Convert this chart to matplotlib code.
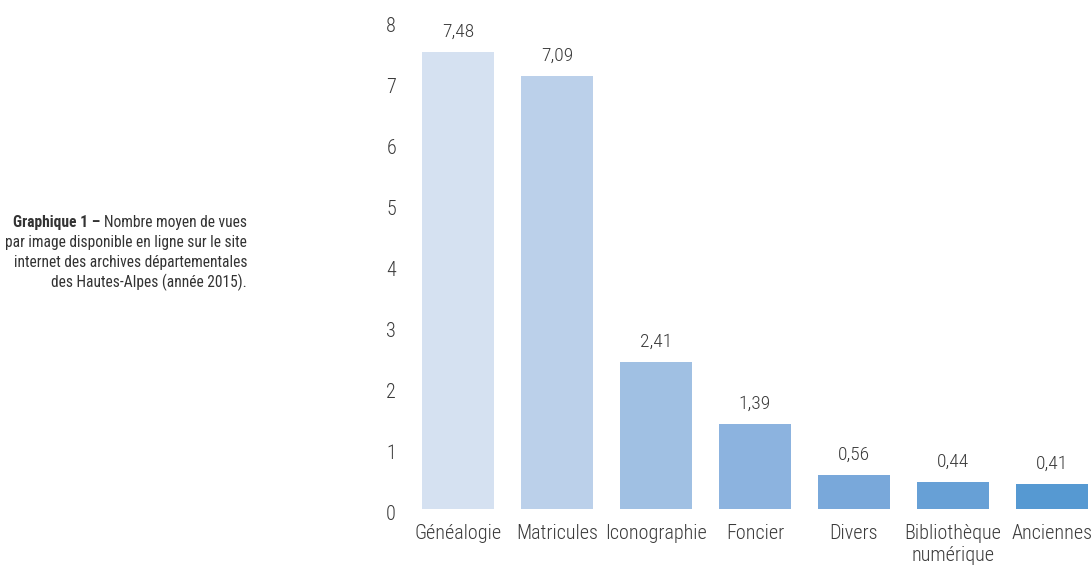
import matplotlib
matplotlib.use("Agg")
import matplotlib.pyplot as plt
import matplotlib.transforms as mt

categories = ["Généalogie", "Matricules", "Iconographie", "Foncier", "Divers",
              "Bibliothèque\nnumérique", "Anciennes"]
values = [7.48, 7.09, 2.41, 1.39, 0.56, 0.44, 0.41]
value_labels = ["7,48", "7,09", "2,41", "1,39", "0,56", "0,44", "0,41"]
colors = ["#D5E1F1", "#BBD0EA", "#A0C0E3", "#8CB3DF", "#79A8DA", "#67A0D6", "#5699D2"]
yticks = [0, 1, 2, 3, 4, 5, 6, 7, 8]

plt.rcParams['font.family'] = ["Roboto Condensed", "DejaVu Sans"]

W, H = 1092, 565
fig = plt.figure(figsize=(W / 100, H / 100), dpi=100)
ax = fig.add_axes([408.5 / W, (H - 509) / H, (1091.6 - 408.5) / W, 489 / H])

x = list(range(len(categories)))
ax.bar(x, values, width=0.727, color=colors)
ax.set_xlim(-0.5, 6.4)
ax.set_ylim(0, 8)
ax.set_yticks(yticks)
ax.set_yticklabels([str(t) for t in yticks], fontsize=14.5, color="#3a3a3a", fontweight="light")
ax.set_xticks(x)
ax.set_xticklabels(categories, fontsize=14.5, color="#3a3a3a", linespacing=1.15, fontweight="light")
ax.tick_params(axis='both', length=0)
ax.tick_params(axis='y', pad=9)
ax.tick_params(axis='x', pad=11)
for lab in ax.get_yticklabels():
    lab.set_transform(lab.get_transform() + mt.ScaledTranslation(0, -4 / 100, fig.dpi_scale_trans))
for s in ax.spines.values():
    s.set_visible(False)

for xi, v, lbl in zip(x, values, value_labels):
    ax.annotate(lbl, (xi, v), xytext=(0, 8), textcoords="offset points",
                ha="center", va="bottom", fontsize=14, color="#3a3a3a", fontweight="light",
                annotation_clip=False)

# caption
cap_lines = ["Nombre moyen de vues",
             "par image disponible en ligne sur le site",
             "internet des archives départementales",
             "des Hautes-Alpes (année 2015)."]
ys = [222, 242, 262, 282]
xr = 247
renderer = fig.canvas.get_renderer()
for i, (line, yy) in enumerate(zip(cap_lines, ys)):
    t = fig.text(xr / W, 1 - yy / H, line, ha="right", va="center", fontsize=11.2, color="#333333")
    if i == 0:
        bb = t.get_window_extent(renderer=renderer)
        fig.text(bb.x0 / W, 1 - yy / H, "Graphique 1 – ", ha="right", va="center",
                 fontsize=11.2, color="#333333", fontweight="bold")

fig.savefig("out.png", dpi=100)
